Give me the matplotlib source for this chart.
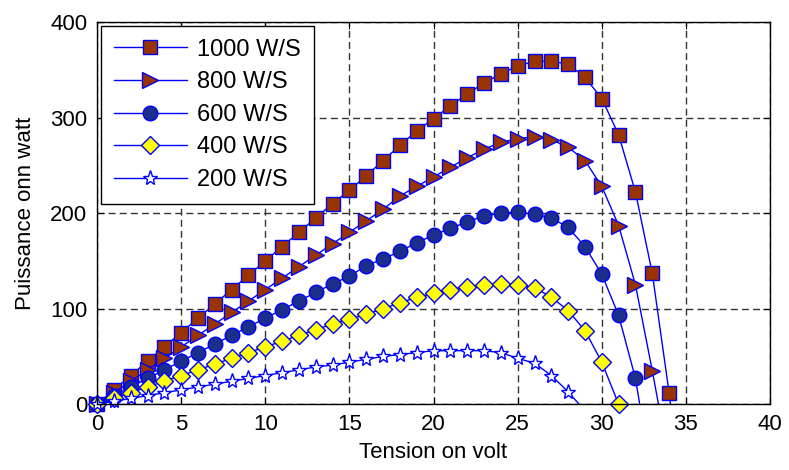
import numpy as np
import matplotlib
matplotlib.use("Agg")
import matplotlib.pyplot as plt
from matplotlib.legend_handler import HandlerTuple

plt.rcParams['font.family'] = ['Liberation Sans', 'DejaVu Sans']

# P-V curves, one point per volt
p1000 = [0, 15, 30, 45, 60, 75, 90, 105, 120, 135, 150, 165, 180, 195, 210, 224, 239, 255,
         271, 286, 299, 312, 325, 336, 346, 354, 359, 359, 356, 342, 320, 282, 222, 137, 12, -130]
p800 = [0, 12, 24, 36, 48, 60, 72, 84, 96, 108, 120, 132, 144, 156, 168, 180, 192, 204,
        218, 228, 238, 248, 258, 267, 274, 278, 280, 277, 269, 255, 228, 187, 125, 35, -60]
p600 = [0, 9, 18, 27, 36, 45, 54, 63, 72, 81, 90, 99, 108, 117, 126, 134, 145, 152,
        160, 169, 177, 184, 191, 197, 200, 201, 199, 195, 185, 165, 136, 93, 27, -80]
p400 = [0, 6, 12, 18, 24, 30, 36, 42, 48, 54, 60, 66, 72, 78, 84, 89, 94, 100,
        106, 112, 116, 120, 123, 125, 126, 125, 122, 112, 98, 77, 44, 0, -50]
p200 = [0, 3, 6, 9, 12, 15, 18, 21, 24, 27, 30, 33, 36, 39, 41, 44, 47, 50,
        52, 54, 56, 56, 56, 56, 54, 48, 43, 30, 13, -7]

labels = ['1000 W/S', '800 W/S', '600 W/S', '400 W/S', '200 W/S']
series = [p1000, p800, p600, p400, p200]
markers = ['s', '>', 'o', 'D', '*']
faces = ['#993300', '#993300', '#1c2e8c', '#ffff00', 'white']
sizes = [10.5, 11, 10.5, 9, 11]

fig = plt.figure(figsize=(7.89, 4.70), dpi=100)
ax = fig.add_axes([0.123, 0.140, 0.853, 0.813])

handles = []
for p, m, fc, ms in zip(series, markers, faces, sizes):
    v = np.arange(len(p))
    p = np.array(p, dtype=float)
    ln, = ax.plot(v, p, '-', color='#0000ff', lw=1.0)
    ok = p >= 0
    mk, = ax.plot(v[ok], p[ok], linestyle='none', marker=m, ms=ms,
                  markerfacecolor=fc, markeredgecolor='#0000ff', markeredgewidth=1.0,
                  clip_on=False)
    handles.append((ln, mk))

ax.set_xlim(0, 40)
ax.set_ylim(0, 400)
ax.set_xticks(range(0, 41, 5))
ax.set_yticks(range(0, 401, 100))
ax.grid(True, color='0.2', linestyle=(0, (5, 3)), lw=1.0)
ax.tick_params(direction='in', top=True, right=True, length=5, labelsize=16, pad=7)
for s in ax.spines.values():
    s.set_linewidth(1.0)

ax.set_xlabel('Tension on volt', fontsize=16, labelpad=5)
ax.set_ylabel('Puissance onn watt', fontsize=16, labelpad=10)

leg = ax.legend(handles, labels, handler_map={tuple: HandlerTuple(ndivide=1)},
                loc='upper left', fontsize=17, fancybox=False, framealpha=1,
                edgecolor='black', handlelength=3.1, labelspacing=0.45,
                borderaxespad=0.15, handletextpad=0.45, borderpad=0.55)
leg.get_frame().set_linewidth(1.0)

fig.savefig('out.png', dpi=100)
